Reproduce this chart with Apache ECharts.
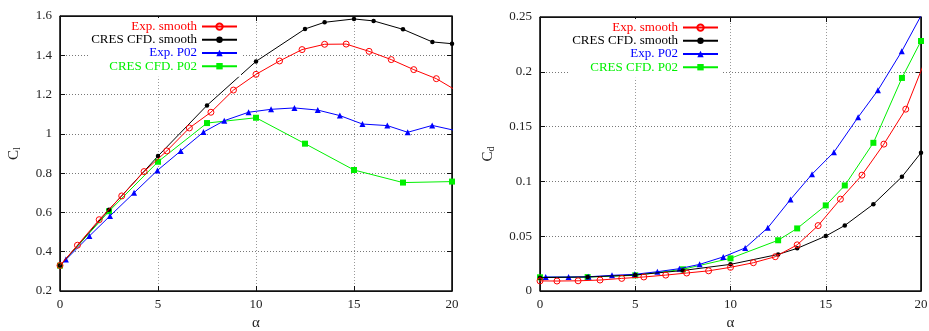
<!DOCTYPE html>
<html>
<head>
<meta charset="utf-8">
<script src="https://cdn.jsdelivr.net/npm/echarts@6/dist/echarts.min.js"></script>
<style>
html,body{margin:0;padding:0;background:#fff;}
#c{width:929px;height:331px;}
</style>
</head>
<body>
<div id="c"></div>
<script>
// ---------- data ----------
var seriesNames = ['Exp. smooth', 'CRES CFD. smooth', 'Exp. P02', 'CRES CFD. P02'];

var xTicks = [0, 5, 10, 15, 20];
var clTicks = [0.2, 0.4, 0.6, 0.8, 1, 1.2, 1.4, 1.6];
var cdTicks = [0, 0.05, 0.1, 0.15, 0.2, 0.25];

// Lift coefficient (left)
var expSmoothAlpha = [0, 0.89, 2.0, 3.15, 4.29, 5.45, 6.6, 7.7, 8.85, 10.0, 11.2, 12.35, 13.5, 14.6, 15.77, 16.9, 18.05, 19.2, 20.35];
var expSmoothCl = [0.33, 0.433, 0.563, 0.684, 0.808, 0.913, 1.030, 1.110, 1.223, 1.303, 1.371, 1.429, 1.456, 1.457, 1.420, 1.378, 1.327, 1.281, 1.213];

var cfdSmoothAlpha = [0, 2.5, 5, 7.5, 10, 12.5, 13.5, 15, 16, 17.5, 19, 20];
var cfdSmoothCl = [0.33, 0.614, 0.887, 1.145, 1.369, 1.534, 1.568, 1.585, 1.575, 1.532, 1.468, 1.459];

var expP02Alpha = [0.3, 1.5, 2.55, 3.78, 4.97, 6.16, 7.32, 8.38, 9.62, 10.77, 11.96, 13.15, 14.28, 15.43, 16.7, 17.74, 18.99, 20.17];
var expP02Cl = [0.36, 0.48, 0.582, 0.70, 0.814, 0.913, 1.009, 1.067, 1.110, 1.125, 1.132, 1.121, 1.093, 1.050, 1.042, 1.008, 1.043, 1.017];

var cfdP02ClAlpha = [0, 2.5, 5, 7.5, 10, 12.5, 15, 17.5, 20];
var cfdP02Cl = [0.329, 0.606, 0.858, 1.055, 1.082, 0.950, 0.816, 0.752, 0.757];

// Drag coefficient (right)
var expSmoothCd = [0.0092, 0.0091, 0.0093, 0.0100, 0.0115, 0.0128, 0.0145, 0.0164, 0.0184, 0.0216, 0.0258, 0.0313, 0.0421, 0.0597, 0.0838, 0.1057, 0.134, 0.1659, 0.2163];
var cfdSmoothCd = [0.0122, 0.0128, 0.0146, 0.0187, 0.0243, 0.0334, 0.0389, 0.0501, 0.0598, 0.0792, 0.1042, 0.1261];
var expP02Cd = [0.0128, 0.0128, 0.0130, 0.0143, 0.0152, 0.0176, 0.0204, 0.0243, 0.0311, 0.0393, 0.0577, 0.0835, 0.1066, 0.1267, 0.1586, 0.1832, 0.2187, 0.2566];
var cfdP02CdAlpha = [0, 2.5, 5, 7.5, 10, 12.5, 13.5, 15, 16, 17.5, 19, 20];
var cfdP02Cd = [0.0125, 0.0127, 0.0143, 0.0198, 0.0298, 0.0463, 0.0571, 0.0781, 0.0963, 0.1352, 0.1944, 0.2281];

// ---------- chart ----------
var FONT = '"Liberation Serif", "DejaVu Serif", serif';
var FRAME = '#111111';
var colors = ['#ff0000', '#000000', '#0000ff', '#00f000'];
var symbols = ['circle', 'circle', 'triangle', 'rect'];
var symSizes = [6, 4.5, 6, 6];

function zip(a, b) { return a.map(function (v, i) { return [v, b[i]]; }); }
function first(a) { return a[0]; }
function last(a) { return a[a.length - 1]; }

function mkSeries(idx, xi, yi, data) {
  var itemStyle = idx === 0
    ? { color: 'rgba(255,255,255,0)', borderColor: colors[0], borderWidth: 1 }
    : { color: colors[idx], borderWidth: 0 };
  return {
    name: seriesNames[idx], type: 'line', xAxisIndex: xi, yAxisIndex: yi,
    data: data, clip: true, symbol: symbols[idx], symbolSize: symSizes[idx],
    showAllSymbol: true, animation: false,
    lineStyle: { color: colors[idx], width: 1 },
    itemStyle: itemStyle,
    z: 2 + (3 - idx) * 0.1
  };
}

// plot frame: a closed outline along the axis extents (built from the tick arrays)
function frameSeries(xi, yi, xt, yt) {
  return {
    type: 'line', xAxisIndex: xi, yAxisIndex: yi, silent: true, clip: false,
    symbol: 'none', animation: false, z: 1.5,
    lineStyle: { color: FRAME, width: 1.2 },
    tooltip: { show: false },
    data: [[first(xt), first(yt)], [last(xt), first(yt)], [last(xt), last(yt)], [first(xt), last(yt)], [first(xt), first(yt)]]
  };
}

function lineOpt(mirror) {
  var o = { show: true, lineStyle: { color: FRAME, width: 1 } };
  if (mirror) { o.onZero = false; }
  return o;
}
function tickOpt() { return { show: true, inside: true, length: 5, lineStyle: { color: FRAME, width: 1 } }; }
function withRange(o, ticks) {
  o.min = ticks[0];
  o.max = ticks[ticks.length - 1];
  o.interval = +(ticks[1] - ticks[0]).toFixed(6);
  return o;
}

function mainX(g, ticks) {
  return withRange({
    gridIndex: g, type: 'value', position: 'bottom', z: 1,
    name: 'α', nameLocation: 'middle', nameGap: 24,
    nameTextStyle: { fontFamily: FONT, fontSize: 15, color: '#222' },
    axisLine: lineOpt(false), axisTick: tickOpt(),
    axisLabel: { fontFamily: FONT, fontSize: 13, color: '#222', margin: 7 },
    splitLine: { show: false }
  }, ticks);
}
function mirrorX(g, ticks) {
  return withRange({
    gridIndex: g, type: 'value', position: 'top', z: 1,
    axisLine: lineOpt(true), axisTick: tickOpt(),
    axisLabel: { show: false }, splitLine: { show: false }
  }, ticks);
}
function gridX(g, ticks) {
  return withRange({
    gridIndex: g, type: 'value', position: 'bottom', z: 0,
    axisLine: { show: false, onZero: false }, axisTick: { show: false }, axisLabel: { show: false },
    splitLine: { show: true, lineStyle: { type: [1, 2], color: '#999', width: 1 } }
  }, ticks);
}
function mainY(g, ticks, sub, gap) {
  return withRange({
    gridIndex: g, type: 'value', position: 'left', z: 1,
    name: '{c|C}{s|' + sub + '}', nameLocation: 'middle', nameGap: gap, nameRotate: 90,
    nameTextStyle: {
      color: '#222',
      rich: {
        c: { fontFamily: FONT, fontSize: 15, color: '#222', verticalAlign: 'top', lineHeight: 15 },
        s: { fontFamily: FONT, fontSize: 10, color: '#222', verticalAlign: 'bottom', lineHeight: 10, padding: [7, 0, 0, 0] }
      }
    },
    axisLine: lineOpt(false), axisTick: tickOpt(),
    axisLabel: { fontFamily: FONT, fontSize: 13, color: '#222', margin: 8 },
    splitLine: { show: false }
  }, ticks);
}
function mirrorY(g, ticks) {
  return withRange({
    gridIndex: g, type: 'value', position: 'right', z: 1,
    axisLine: lineOpt(true), axisTick: tickOpt(),
    axisLabel: { show: false }, splitLine: { show: false }
  }, ticks);
}
function gridY(g, ticks) {
  return withRange({
    gridIndex: g, type: 'value', position: 'left', z: 0,
    axisLine: { show: false, onZero: false }, axisTick: { show: false }, axisLabel: { show: false },
    splitLine: { show: true, lineStyle: { type: [1, 2], color: '#777', width: 1 } }
  }, ticks);
}

function mkLegend(right, top) {
  return {
    orient: 'vertical', align: 'right', right: right, top: top,
    itemWidth: 35, itemHeight: 8, itemGap: 0,
    backgroundColor: '#fff', padding: [2, 3, 4, 3],
    selectedMode: false,
    textStyle: { fontFamily: FONT, fontSize: 13, lineHeight: 13.2 },
    data: seriesNames.map(function (n, i) {
      return { name: n, textStyle: { color: colors[i] } };
    })
  };
}

var chart = echarts.init(document.getElementById('c'), null, { renderer: 'canvas' });
chart.setOption({
  animation: false,
  grid: [
    { left: 60, top: 16, width: 392, height: 275, outerBoundsMode: 'none', containLabel: false,
      show: true, borderColor: FRAME, borderWidth: 1 },
    { left: 540, top: 17, width: 381, height: 274, outerBoundsMode: 'none', containLabel: false,
      show: true, borderColor: FRAME, borderWidth: 1 }
  ],
  legend: [mkLegend(688, 18), mkLegend(207, 19)],
  xAxis: [mainX(0, xTicks), mirrorX(0, xTicks), mainX(1, xTicks), mirrorX(1, xTicks), gridX(0, xTicks), gridX(1, xTicks)],
  yAxis: [mainY(0, clTicks, 'l', 38), mirrorY(0, clTicks), mainY(1, cdTicks, 'd', 44), mirrorY(1, cdTicks), gridY(0, clTicks), gridY(1, cdTicks)],
  series: [
    frameSeries(0, 0, xTicks, clTicks),
    frameSeries(2, 2, xTicks, cdTicks),
    mkSeries(0, 0, 0, zip(expSmoothAlpha, expSmoothCl)),
    mkSeries(1, 0, 0, zip(cfdSmoothAlpha, cfdSmoothCl)),
    mkSeries(2, 0, 0, zip(expP02Alpha, expP02Cl)),
    mkSeries(3, 0, 0, zip(cfdP02ClAlpha, cfdP02Cl)),
    mkSeries(0, 2, 2, zip(expSmoothAlpha, expSmoothCd)),
    mkSeries(1, 2, 2, zip(cfdSmoothAlpha, cfdSmoothCd)),
    mkSeries(2, 2, 2, zip(expP02Alpha, expP02Cd)),
    mkSeries(3, 2, 2, zip(cfdP02CdAlpha, cfdP02Cd))
  ]
});
</script>
</body>
</html>
